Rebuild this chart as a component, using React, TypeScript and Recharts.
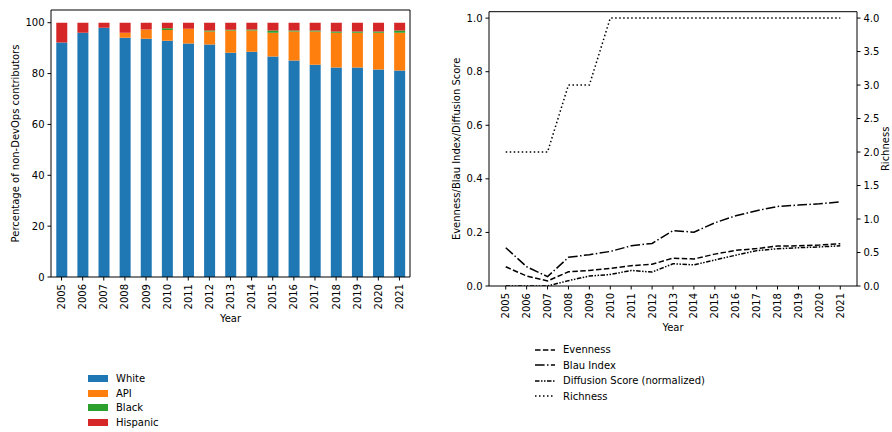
import React from 'react';
import { BarChart, Bar, XAxis, YAxis, LineChart, Line, Legend, Label, CartesianGrid } from 'recharts';

const years = ['2005','2006','2007','2008','2009','2010','2011','2012','2013','2014','2015','2016','2017','2018','2019','2020','2021'];
const white = [92.2, 96.1, 98.0, 94.1, 93.7, 92.9, 91.8, 91.4, 88.2, 88.6, 86.7, 85.1, 83.5, 82.4, 82.4, 81.6, 81.2];
const api = [0, 0, 0, 2.0, 3.6, 4.2, 5.8, 5.1, 8.7, 8.3, 9.4, 11.4, 13.0, 13.7, 13.7, 14.5, 14.9];
const black = [0, 0, 0, 0, 0, 0.7, 0, 0.4, 0.3, 0.4, 0.8, 0.4, 0.4, 0.4, 0.4, 0.4, 0.8];
const hispanic = [7.8, 3.9, 2.0, 3.9, 2.7, 2.2, 2.4, 3.1, 2.8, 2.7, 3.1, 3.1, 3.1, 3.5, 3.5, 3.5, 3.1];

const evenness = [0.072, 0.037, 0.019, 0.053, 0.058, 0.066, 0.076, 0.081, 0.104, 0.101, 0.119, 0.133, 0.140, 0.149, 0.150, 0.153, 0.158];
const blau = [0.143, 0.072, 0.035, 0.107, 0.117, 0.129, 0.150, 0.159, 0.207, 0.201, 0.236, 0.262, 0.281, 0.297, 0.302, 0.307, 0.314];
const diffusion = [0, 0, 0, 0.020, 0.037, 0.043, 0.058, 0.052, 0.083, 0.079, 0.097, 0.115, 0.132, 0.139, 0.143, 0.146, 0.150];
const richness = [2, 2, 2, 3, 3, 4, 4, 4, 4, 4, 4, 4, 4, 4, 4, 4, 4];

const pctTicks = [0, 20, 40, 60, 80, 100];
const scoreTicks = [0, 0.2, 0.4, 0.6, 0.8, 1.0];
const richTicks = [0, 0.5, 1.0, 1.5, 2.0, 2.5, 3.0, 3.5, 4.0];

const groups = [
  { key: 'White', color: '#1f77b4' },
  { key: 'API', color: '#ff7f0e' },
  { key: 'Black', color: '#2ca02c' },
  { key: 'Hispanic', color: '#d62728' },
];
const lineSeries = [
  { key: 'Evenness', dash: '5.5 2.4', axis: 'score' },
  { key: 'Blau Index', dash: '9.6 2.4 1.5 2.4', axis: 'score' },
  { key: 'Diffusion Score (normalized)', dash: '4.5 1.5 1.5 1.5 1.5 1.5', axis: 'score' },
  { key: 'Richness', dash: '1.5 2.5', axis: 'rich' },
];

const barData = years.map((y, i) => ({ year: y, White: white[i], API: api[i], Black: black[i], Hispanic: hispanic[i] }));
const lineData = years.map((y, i) => ({
  year: Number(y),
  Evenness: evenness[i],
  'Blau Index': blau[i],
  'Diffusion Score (normalized)': diffusion[i],
  Richness: richness[i],
}));

const FONT = '"DejaVu Sans", sans-serif';
const FS = 10;

const RotTick = (props: any) => {
  const { x, y, payload } = props;
  return (
    <text x={x} y={y} transform={`rotate(-90, ${x}, ${y})`} textAnchor="end" dy="0.35em" fontSize={FS} fontFamily={FONT} fill="#000">
      {payload.value}
    </text>
  );
};

const XLabel = (dy: number) => (props: any) => {
  const vb = props.viewBox;
  return (
    <text x={vb.x + vb.width / 2} y={vb.y + dy} textAnchor="middle" dominantBaseline="central" fontSize={FS} fontFamily={FONT} fill="#000">
      {props.value}
    </text>
  );
};

const YLabel = (absX: (vb: any) => number) => (props: any) => {
  const vb = props.viewBox;
  const cx = absX(vb);
  const cy = vb.y + vb.height / 2;
  return (
    <text x={cx} y={cy} transform={`rotate(-90, ${cx}, ${cy})`} textAnchor="middle" dominantBaseline="central" fontSize={FS} fontFamily={FONT} fill="#000">
      {props.value}
    </text>
  );
};

const BarLegend = () => (
  <div style={{ fontFamily: FONT, fontSize: FS, color: '#000' }}>
    {groups.map((g) => (
      <div key={g.key} style={{ display: 'flex', alignItems: 'center', height: 14.7 }}>
        <div style={{ width: 20, height: 7, background: g.color, marginRight: 8 }} />
        <span>{g.key}</span>
      </div>
    ))}
  </div>
);

const LineLegend = () => (
  <div style={{ fontFamily: FONT, fontSize: FS, color: '#000' }}>
    {lineSeries.map((s) => (
      <div key={s.key} style={{ display: 'flex', alignItems: 'center', height: 15.5 }}>
        <svg width={20} height={6} style={{ marginRight: 8 }}>
          <line x1={0} y1={3} x2={20} y2={3} stroke="#000" strokeWidth={1.5} strokeDasharray={s.dash} />
        </svg>
        <span>{s.key}</span>
      </div>
    ))}
  </div>
);

const tickStyle = { fontSize: FS, fontFamily: FONT, fill: '#000' };

const topEdge = ({ offset }: any) => [offset.top];
const rightEdge = ({ offset }: any) => [offset.left + offset.width];

export default function App() {
  return (
    <div style={{ position: 'absolute', left: 0, top: 0, width: 892, height: 432, background: '#fff' }}>
      <div style={{ position: 'absolute', left: 0, top: 0 }}>
        <BarChart width={440} height={432} data={barData} margin={{ top: 10, right: 30, left: 11, bottom: 115 }} barCategoryGap="25%">
          <CartesianGrid stroke="#000" strokeWidth={1} horizontalCoordinatesGenerator={topEdge} verticalCoordinatesGenerator={rightEdge} />
          <XAxis dataKey="year" interval={0} height={40} tick={<RotTick />} tickSize={3.5} tickMargin={3.5} stroke="#000" tickLine={{ stroke: '#000' }}>
            <Label value="Year" content={XLabel(41)} />
          </XAxis>
          <YAxis domain={[0, 105]} ticks={pctTicks} width={40} tickSize={3.5} tickMargin={3} tick={tickStyle} stroke="#000" allowDataOverflow>
            <Label value="Percentage of non-DevOps contributors" content={YLabel(() => 15)} />
          </YAxis>
          {groups.map((g) => (
            <Bar key={g.key} dataKey={g.key} stackId="a" fill={g.color} isAnimationActive={false} />
          ))}
          <Legend layout="horizontal" verticalAlign="middle" align="center" content={<BarLegend />}
            wrapperStyle={{ position: 'absolute', left: 88, top: 371, width: 120, height: 60 }} />
        </BarChart>
      </div>
      <div style={{ position: 'absolute', left: 440, top: 0 }}>
        <LineChart width={452} height={432} data={lineData} margin={{ top: 11.7, right: 5, left: 9, bottom: 106 }}>
          <CartesianGrid stroke="#000" strokeWidth={1} vertical={false} horizontalCoordinatesGenerator={topEdge} yAxisId="score" />
          <XAxis dataKey="year" type="number" domain={[2004.2, 2021.8]} ticks={years.map(Number)} interval={0} height={40}
            tick={<RotTick />} tickSize={3.5} tickMargin={3.5} stroke="#000" allowDataOverflow>
            <Label value="Year" content={XLabel(41)} />
          </XAxis>
          <YAxis yAxisId="score" domain={[0, 1.024]} ticks={scoreTicks} width={40} tickSize={3.5} tickMargin={3} tick={tickStyle}
            tickFormatter={(v: number) => v.toFixed(1)} stroke="#000" allowDataOverflow>
            <Label value="Evenness/Blau Index/Diffusion Score" content={YLabel(() => 17)} />
          </YAxis>
          <YAxis yAxisId="rich" orientation="right" domain={[0, 4.095]} ticks={richTicks} width={30} tickSize={3.5} tickMargin={3} tick={{ ...tickStyle, textAnchor: 'start' }}
            tickFormatter={(v: number) => v.toFixed(1)} stroke="#000" allowDataOverflow>
            <Label value="Richness" content={YLabel(() => 446)} />
          </YAxis>
          {lineSeries.map((s) => (
            <Line key={s.key} yAxisId={s.axis} dataKey={s.key} type="linear" stroke="#000" strokeWidth={1.5} strokeDasharray={s.dash}
              dot={false} activeDot={false} isAnimationActive={false} />
          ))}
          <Legend layout="horizontal" verticalAlign="middle" align="center" content={<LineLegend />}
            wrapperStyle={{ position: 'absolute', left: 95, top: 342, width: 220, height: 64 }} />
        </LineChart>
      </div>
    </div>
  );
}
